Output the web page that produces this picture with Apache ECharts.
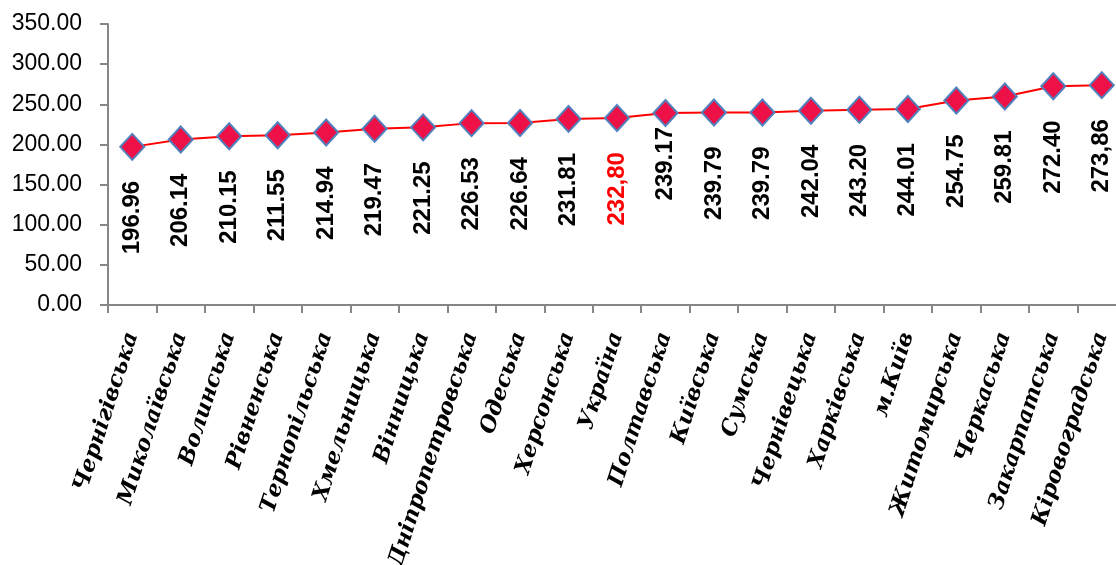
<!DOCTYPE html>
<html>
<head>
<meta charset="utf-8">
<script src="https://cdn.jsdelivr.net/npm/echarts@6/dist/echarts.min.js"></script>
<style>
html,body{margin:0;padding:0;background:#fff;}
#chart{width:1116px;height:565px;}
</style>
</head>
<body>
<div id="chart"></div>
<script>
const categories = ["Чернігівська","Миколаївська","Волинська","Рівненська","Тернопільська","Хмельницька","Вінницька","Дніпропетровська","Одеська","Херсонська","Україна","Полтавська","Київська","Сумська","Чернівецька","Харківська","м.Київ","Житомирська","Черкаська","Закарпатська","Кіровоградська"];
const values = [196.96,206.14,210.15,211.55,214.94,219.47,221.25,226.53,226.64,231.81,232.80,239.17,239.79,239.79,242.04,243.20,244.01,254.75,259.81,272.40,273.86];
const valueLabels = ["196.96","206.14","210.15","211.55","214.94","219.47","221.25","226.53","226.64","231.81","232,80","239.17","239.79","239.79","242.04","243.20","244.01","254.75","259.81","272.40","273,86"];
const yTicks = [0,50,100,150,200,250,300,350];

const highlight = "Україна";
const raised = "Полтавська";

const chart = echarts.init(document.getElementById('chart'));
chart.setOption({
  animation:false,
  backgroundColor:'#ffffff',
  grid:{left:108,right:-10,top:24,bottom:260,containLabel:false,outerBoundsMode:'none'},
  xAxis:{
    type:'category',
    data:categories,
    boundaryGap:true,
    axisLine:{lineStyle:{color:'#868686',width:2}},
    axisTick:{show:true,alignWithLabel:false,length:8,lineStyle:{color:'#868686',width:2}},
    axisLabel:{
      interval:0,rotate:72,margin:28,
      fontFamily:'DejaVu Serif',fontWeight:'bold',fontStyle:'italic',fontSize:22,color:'#000'
    }
  },
  yAxis:{
    type:'value',min:yTicks[0],max:yTicks[yTicks.length-1],interval:50,
    splitLine:{show:false},
    axisLine:{show:true,lineStyle:{color:'#868686',width:2}},
    axisTick:{show:true,length:8,lineStyle:{color:'#868686',width:2}},
    axisLabel:{
      margin:26,fontFamily:'Liberation Sans',fontSize:23,color:'#000',
      formatter:v=>v.toFixed(2)
    }
  },
  series:[{
    type:'line',
    data:values.map((v,i)=>({
      value:v,
      label:{
        color: categories[i]===highlight ? '#ff0000' : '#000',
        distance: categories[i]===raised ? 0 : 20
      }
    })),
    symbol:'diamond',
    symbolSize:[24,26],
    lineStyle:{color:'#ff0000',width:2},
    itemStyle:{color:'#ee1148',borderColor:'#4f81bd',borderWidth:2},
    label:{
      show:true,position:'bottom',rotate:90,align:'right',verticalAlign:'middle',
      fontFamily:'Liberation Sans',fontWeight:'bold',fontSize:24,
      formatter:p=>valueLabels[p.dataIndex]
    }
  }]
});
</script>
</body>
</html>
